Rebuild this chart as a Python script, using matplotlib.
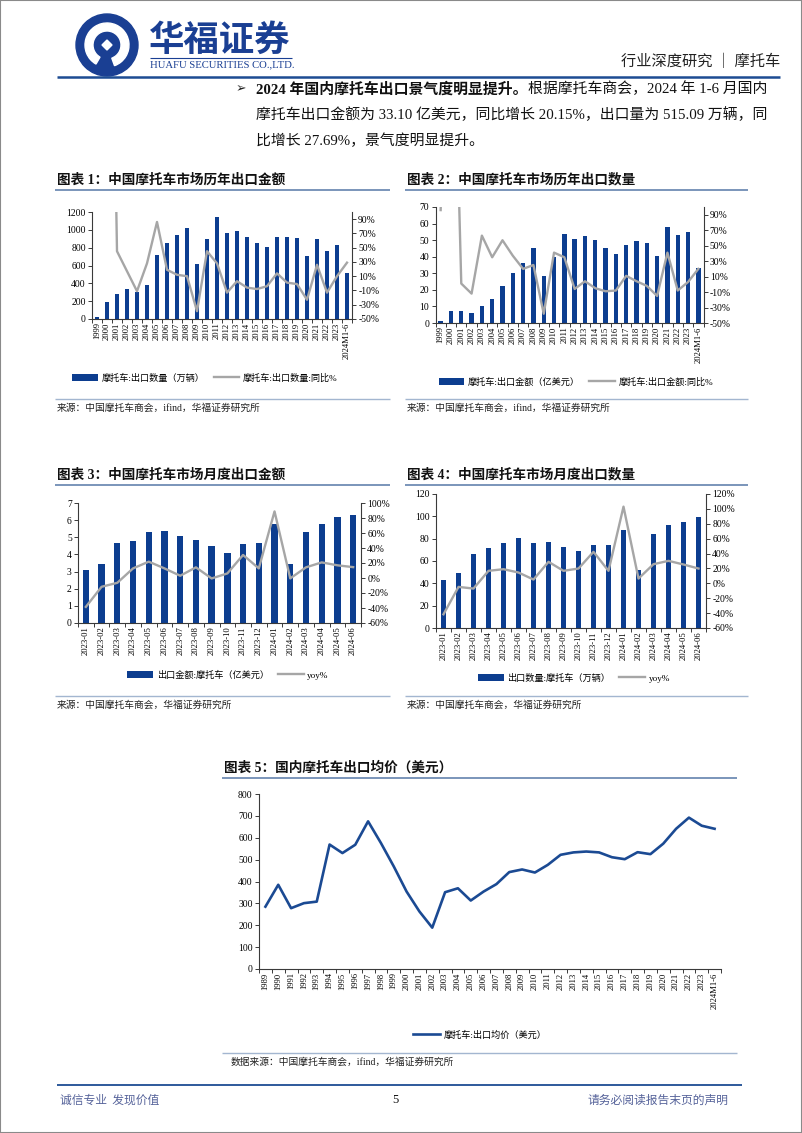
import matplotlib
matplotlib.use('Agg')
import matplotlib.pyplot as plt
import numpy as np
from matplotlib.lines import Line2D
from matplotlib.patches import Rectangle, Circle, Wedge, Polygon
from matplotlib.font_manager import FontProperties

W, H = 802, 1133
FAM = ['Liberation Serif', 'Noto Sans CJK SC']
plt.rcParams['font.family'] = FAM
plt.rcParams['axes.unicode_minus'] = False

# ---------------- data ----------------
years_a = ['1999', '2000', '2001', '2002', '2003', '2004', '2005', '2006', '2007', '2008',
           '2009', '2010', '2011', '2012', '2013', '2014', '2015', '2016', '2017', '2018',
           '2019', '2020', '2021', '2022', '2023', '2024M1-6']
qty_annual = [20, 195, 285, 340, 300, 385, 720, 855, 940, 1025, 620, 900, 1140, 965, 985,
              925, 850, 810, 920, 920, 910, 705, 895, 760, 830, 515]
qty_annual_yoy = [np.nan, 875, 45, 17, -11, 28, 86, 19, 12, 10, -39, 45, 28, -13, 3,
                  -6, -8, -4, 14, 1, -1, -23, 26, -13, 10, 29]
val_annual = [1.2, 7.3, 7.3, 6.3, 10.3, 14.2, 22.5, 30.4, 36.4, 45.5, 28.3, 40.0, 54.0, 50.6,
              52.6, 49.8, 45.3, 41.7, 47.0, 49.4, 48.2, 40.5, 57.7, 53.0, 54.7, 33.1]
val_annual_yoy = [96, 510, 1, -12, 63, 35, 57, 37, 20, 25, -38, 41, 35, -6, 4,
                  -5, -9, -8, 11, 4, -2, -15, 41, -8, 3, 20]

months = ['2023-01', '2023-02', '2023-03', '2023-04', '2023-05', '2023-06', '2023-07',
          '2023-08', '2023-09', '2023-10', '2023-11', '2023-12', '2024-01', '2024-02',
          '2024-03', '2024-04', '2024-05', '2024-06']
val_month = [3.07, 3.46, 4.66, 4.79, 5.30, 5.38, 5.07, 4.83, 4.50, 4.11, 4.60, 4.66, 5.77,
             3.42, 5.32, 5.79, 6.16, 6.30]
val_month_yoy = [-38.5, -11.7, -6.4, 12.8, 21.8, 12.8, 3.0, 14.2, -0.6, 6.1, 30.7, 12.8,
                 88.8, -0.5, 14.2, 20.8, 16.9, 14.5]
qty_month = [43.4, 49.1, 66.7, 71.2, 75.7, 80.5, 76.3, 77.2, 72.1, 69.1, 74.5, 73.9, 87.4,
             51.8, 84.4, 92.5, 94.6, 99.0]
qty_month_yoy = [-41.6, -4.8, -7.0, 16.8, 19.0, 14.5, 5.1, 28.9, 16.8, 19.9, 42.3, 16.8,
                 103.0, 6.4, 25.7, 30.2, 25.3, 19.9]

years_p = ['1989', '1990', '1991', '1992', '1993', '1994', '1995', '1996', '1997', '1998',
           '1999', '2000', '2001', '2002', '2003', '2004', '2005', '2006', '2007', '2008',
           '2009', '2010', '2011', '2012', '2013', '2014', '2015', '2016', '2017', '2018',
           '2019', '2020', '2021', '2022', '2023', '2024M1-6']
price = [285, 385, 278, 301, 308, 569, 530, 568, 675, 576, 469, 354, 263, 189, 351, 369,
         313, 354, 388, 443, 455, 441, 476, 522, 533, 537, 533, 511, 502, 534, 525, 573,
         641, 692, 655, 641]

# ---------------- styles ----------------
BLUE = '#0c3d8f'
GRAY = '#a6a6a6'
LBLUE = '#1b4a93'
SPINE = '#3a3a3a'
TITLE_LINE = '#6f8cb4'
SRC_LINE = '#a3b6d0'
HEAD_BLUE = '#1d4c93'

fig = plt.figure(figsize=(W / 100, H / 100), dpi=100)


def fy(y):
    return 1 - y / H


def add_ax(l, t, r, b):
    return fig.add_axes([l / W, 1 - b / H, (r - l) / W, (b - t) / H])


def hline(x0, x1, y, color, lw):
    fig.add_artist(Line2D([x0 / W, x1 / W], [fy(y), fy(y)], color=color, lw=lw,
                          solid_capstyle='butt'))


def text(x, y, s, **kw):
    kw.setdefault('va', 'center')
    return fig.text(x / W, fy(y), s, **kw)


# page border
fig.add_artist(Rectangle((0, 0), 1, 1, transform=fig.transFigure, fill=False,
                         ec='#8a8a8a', lw=1.5))

# ---------------- header ----------------
lax = add_ax(72, 12, 142, 80)
lax.set_xlim(0, 70)
lax.set_ylim(68, 0)
lax.set_aspect('equal')
lax.axis('off')
lax.add_patch(Circle((35, 33), 31, color='#1a3f93'))
lax.add_patch(Wedge((35, 33), 22, 120, 430, width=8, color='white'))
lax.add_patch(Polygon([[35, 23], [45, 33], [35, 43], [25, 33]], closed=True, color='#1a3f93'))
lax.add_patch(Polygon([[35, 28], [40, 33], [35, 38], [30, 33]], closed=True, color='white'))

text(149, 40, '华福证券', fontsize=25.5, weight='bold', color='#1a3f93',
     family=['Noto Sans CJK SC'], ha='left')
hline(150, 292, 57.5, '#1a3f93', 0.8)
text(150, 65, 'HUAFU SECURITIES CO.,LTD.', fontsize=7.7, color='#1a3f93',
     family=['Liberation Serif'], ha='left')
text(780, 62, '行业深度研究 ｜ 摩托车', fontsize=11, color='#222222',
     family=['Noto Sans CJK SC'], ha='right')
hline(57, 780, 77, HEAD_BLUE, 1.8)

# body paragraph
BODY = 10.7
text(236, 89, '➢', fontsize=9, family=['DejaVu Sans'], ha='left', color='#222222')
fig.canvas.draw()
rend = fig.canvas.get_renderer()
t1 = text(256, 89, '2024 年国内摩托车出口景气度明显提升。', fontsize=BODY, weight='bold',
          ha='left', color='#111111')
bb = t1.get_window_extent(renderer=rend)
x_end = bb.x1
text(x_end, 89, '根据摩托车商会，2024 年 1-6 月国内', fontsize=BODY, ha='left',
     color='#111111')
text(256, 115, '摩托车出口金额为 33.10 亿美元，同比增长 20.15%，出口量为 515.09 万辆，同',
     fontsize=BODY, ha='left', color='#111111')
text(256, 141, '比增长 27.69%，景气度明显提升。', fontsize=BODY, ha='left', color='#111111')


# ---------------- helpers ----------------
def section(x0, x1, ytitle, title, ysrc, src):
    text(x0 + 2, ytitle, title, fontsize=9.8, weight='bold', ha='left', color='#111111')
    hline(x0, x1, ytitle + 9.5, TITLE_LINE, 1.3)
    if ysrc is not None:
        hline(x0, x1, ysrc - 9, SRC_LINE, 1.0)
        text(x0 + 2, ysrc, src, fontsize=7.0, ha='left', color='#222222')


def style_x(ax, cats, lab_size):
    n = len(cats)
    x = np.arange(n)
    ax.set_xlim(-0.5, n - 0.5)
    ax.set_xticks(x)
    ax.set_xticklabels(cats, rotation=90, fontsize=lab_size, family=['Liberation Serif'])
    ax.set_xticks(np.arange(-0.5, n, 1), minor=True)
    ax.tick_params(axis='x', which='major', length=0, pad=2.5)
    ax.tick_params(axis='x', which='minor', length=3, width=0.7, color=SPINE,
                   direction='out')


def combo(box, cats, bars, line, ylim, yticks, y2lim, y2ticks, bw, leg_labels, leg_xy,
          hl=2.8):
    ax = add_ax(*box)
    x = np.arange(len(cats))
    ax.bar(x, bars, width=bw, color=BLUE, zorder=2, label=leg_labels[0])
    style_x(ax, cats, 6.2)
    ax.set_ylim(*ylim)
    ax.set_yticks(yticks)
    ax.tick_params(axis='y', labelsize=6.9, length=3, width=0.7, pad=1.5, color=SPINE)
    for s in ['top', 'right']:
        ax.spines[s].set_visible(False)
    for s in ['left', 'bottom']:
        ax.spines[s].set_color(SPINE)
        ax.spines[s].set_linewidth(0.8)
    ax2 = ax.twinx()
    ax2.plot(x, line, color=GRAY, lw=1.7, zorder=3, label=leg_labels[1])
    ax2.set_ylim(*y2lim)
    ax2.set_yticks(y2ticks)
    ax2.set_yticklabels([f'{v}%' for v in y2ticks])
    ax2.tick_params(axis='y', labelsize=6.9, length=3, width=0.7, pad=1.5, color=SPINE)
    for s in ['top', 'left', 'bottom']:
        ax2.spines[s].set_visible(False)
    ax2.spines['right'].set_color(SPINE)
    ax2.spines['right'].set_linewidth(0.8)
    for lab in ax.get_yticklabels() + ax2.get_yticklabels():
        lab.set_family(['Liberation Serif'])
    h1, l1 = ax.get_legend_handles_labels()
    h2, l2 = ax2.get_legend_handles_labels()
    fig.legend(h1 + h2, l1 + l2, loc='center', ncol=2, frameon=False,
               bbox_to_anchor=(leg_xy[0] / W, fy(leg_xy[1])),
               prop=FontProperties(family=FAM, size=6.6), handlelength=hl,
               handleheight=0.9, columnspacing=1.0, handletextpad=0.4)
    return ax, ax2


# ---------------- chart 1 ----------------
section(55, 390, 180, '图表 1：中国摩托车市场历年出口金额', 408,
        '来源：中国摩托车商会，ifind，华福证券研究所')
combo((92, 212, 352, 319), years_a, qty_annual, qty_annual_yoy,
      (0, 1200), np.arange(0, 1201, 200), (-50, 100), list(range(-50, 91, 20)), 0.45,
      ['摩托车:出口数量（万辆）', '摩托车:出口数量:同比%'], (205, 378))

# ---------------- chart 2 ----------------
section(405, 748, 180, '图表 2：中国摩托车市场历年出口数量', 408,
        '来源：中国摩托车商会，ifind，华福证券研究所')
combo((435.5, 207, 703.5, 323), years_a, val_annual, val_annual_yoy,
      (0, 70), np.arange(0, 71, 10), (-50, 100), list(range(-50, 91, 20)), 0.42,
      ['摩托车:出口金额（亿美元）', '摩托车:出口金额:同比%'], (576, 382))

# ---------------- chart 3 ----------------
section(55, 390, 475, '图表 3：中国摩托车市场月度出口金额', 705,
        '来源：中国摩托车商会，华福证券研究所')
combo((78, 503, 361, 623), months, val_month, val_month_yoy,
      (0, 7), np.arange(0, 8, 1), (-60, 100), list(range(-60, 101, 20)), 0.4,
      ['出口金额:摩托车（亿美元）', 'yoy%'], (228, 675))

# ---------------- chart 4 ----------------
section(405, 748, 475, '图表 4：中国摩托车市场月度出口数量', 705,
        '来源：中国摩托车商会，华福证券研究所')
combo((436, 494, 706, 628), months, qty_month, qty_month_yoy,
      (0, 120), np.arange(0, 121, 20), (-60, 120), list(range(-60, 121, 20)), 0.38,
      ['出口数量:摩托车（万辆）', 'yoy%'], (574, 678))

# ---------------- chart 5 ----------------
section(222, 737, 768, '图表 5：国内摩托车出口均价（美元）', None, None)
ax5 = add_ax(259, 794, 721, 969)
x5 = np.arange(len(years_p))
ax5.plot(x5, price, color=LBLUE, lw=1.9, label='摩托车:出口均价（美元）')
style_x(ax5, years_p, 6.2)
ax5.set_ylim(0, 800)
ax5.set_yticks(np.arange(0, 801, 100))
ax5.tick_params(axis='y', labelsize=6.9, length=3, width=0.7, pad=1.5, color=SPINE)
for lab in ax5.get_yticklabels():
    lab.set_family(['Liberation Serif'])
for s in ['top', 'right']:
    ax5.spines[s].set_visible(False)
for s in ['left', 'bottom']:
    ax5.spines[s].set_color(SPINE)
    ax5.spines[s].set_linewidth(0.8)
h5, l5 = ax5.get_legend_handles_labels()
fig.legend(h5, l5, loc='center', frameon=False, bbox_to_anchor=(480 / W, fy(1035)),
           prop=FontProperties(family=FAM, size=6.6), handlelength=3.0, handletextpad=0.4)
hline(222, 737, 1053, SRC_LINE, 1.0)
text(231, 1062, '数据来源：中国摩托车商会，ifind，华福证券研究所', fontsize=7.0, ha='left',
     color='#222222')

# ---------------- footer ----------------
hline(57, 742, 1085, HEAD_BLUE, 1.3)
text(60, 1100, '诚信专业  发现价值', fontsize=8.5, ha='left', color='#56639a',
     family=['Noto Sans CJK SC'])
text(395, 1100, '5', fontsize=9, ha='center', color='#111111')
text(728, 1100, '请务必阅读报告末页的声明', fontsize=8.5, ha='right', color='#56639a',
     family=['Noto Sans CJK SC'])

fig.savefig('out.png', dpi=100)
